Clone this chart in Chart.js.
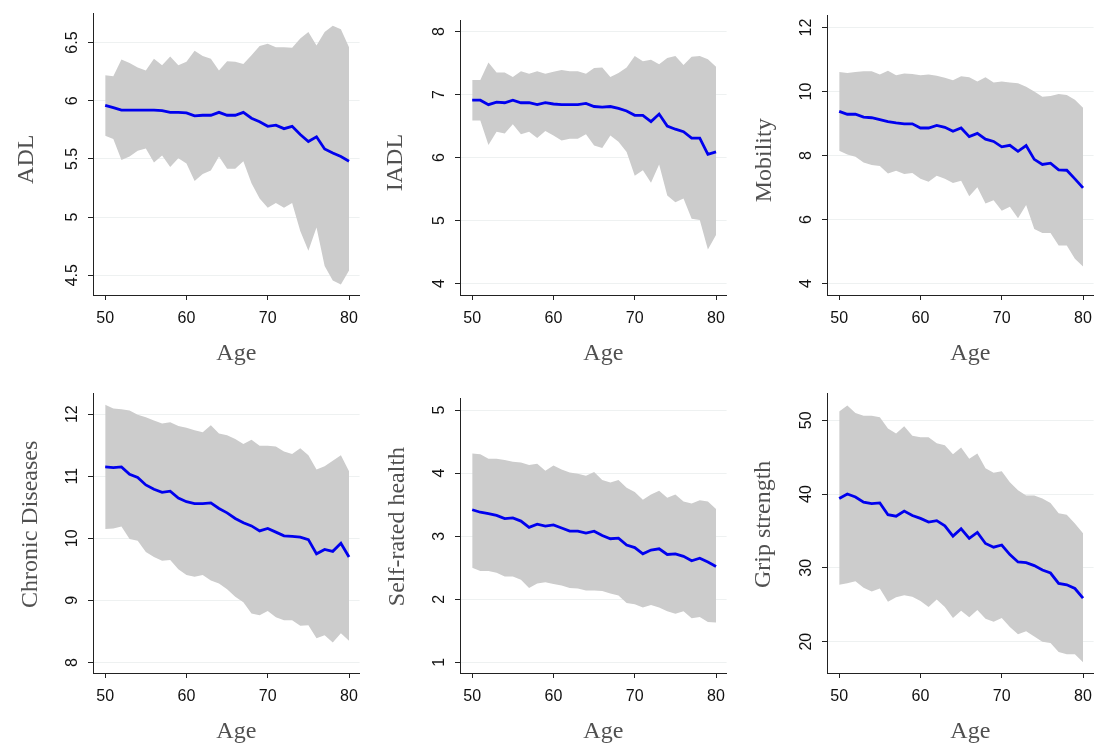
<!DOCTYPE html>
<html>
<head>
<meta charset="utf-8">
<script src="https://cdn.jsdelivr.net/npm/chart.js@4.4.1/dist/chart.umd.min.js"></script>
<style>
  body { margin: 0; background: #fff; width: 1103px; height: 749px; overflow: hidden; position: relative; }
  canvas { position: absolute; }
</style>
</head>
<body>
<canvas id="c1" width="367" height="371" style="left:0;top:0"></canvas>
<canvas id="c2" width="367" height="371" style="left:367px;top:0"></canvas>
<canvas id="c3" width="367" height="371" style="left:734px;top:0"></canvas>
<canvas id="c4" width="367" height="371" style="left:0;top:378px"></canvas>
<canvas id="c5" width="367" height="371" style="left:367px;top:378px"></canvas>
<canvas id="c6" width="367" height="371" style="left:734px;top:378px"></canvas>
<script>
// ── data (ages 50..80) ──
const ages = [50,51,52,53,54,55,56,57,58,59,60,61,62,63,64,65,66,67,68,69,70,71,72,73,74,75,76,77,78,79,80];
const ageTicks = [50, 60, 70, 80];

const adlMean  = [5.96,5.94,5.92,5.92,5.92,5.92,5.92,5.915,5.90,5.90,5.895,5.87,5.875,5.875,5.90,5.875,5.875,5.90,5.85,5.82,5.78,5.79,5.76,5.78,5.71,5.65,5.69,5.585,5.55,5.52,5.48];
const adlUpper = [6.22,6.21,6.355,6.325,6.285,6.26,6.36,6.305,6.38,6.305,6.335,6.43,6.385,6.36,6.26,6.34,6.335,6.315,6.39,6.47,6.49,6.46,6.46,6.455,6.535,6.59,6.475,6.59,6.645,6.615,6.46];
const adlLower = [5.70,5.67,5.49,5.52,5.57,5.59,5.47,5.53,5.43,5.505,5.46,5.31,5.37,5.40,5.52,5.415,5.415,5.48,5.29,5.16,5.08,5.12,5.08,5.12,4.88,4.71,4.91,4.58,4.455,4.42,4.54];
const adlTicks = [4.5, 5, 5.5, 6, 6.5];

const iadlMean  = [6.91,6.91,6.84,6.88,6.87,6.91,6.87,6.87,6.84,6.87,6.85,6.84,6.84,6.84,6.86,6.81,6.80,6.81,6.78,6.74,6.67,6.67,6.57,6.69,6.50,6.45,6.41,6.31,6.31,6.05,6.09];
const iadlUpper = [7.23,7.23,7.51,7.35,7.35,7.28,7.37,7.33,7.37,7.33,7.36,7.39,7.37,7.37,7.33,7.42,7.43,7.28,7.34,7.43,7.61,7.53,7.55,7.48,7.58,7.61,7.47,7.60,7.61,7.56,7.44];
const iadlLower = [6.59,6.59,6.20,6.41,6.38,6.53,6.37,6.41,6.31,6.42,6.35,6.27,6.30,6.30,6.37,6.19,6.15,6.35,6.25,6.09,5.71,5.80,5.60,5.89,5.40,5.29,5.35,5.03,5.01,4.54,4.77];
const iadlTicks = [4, 5, 6, 7, 8];

const mobMean  = [9.38,9.29,9.29,9.20,9.18,9.12,9.06,9.02,8.99,8.99,8.86,8.86,8.94,8.88,8.76,8.86,8.59,8.69,8.51,8.44,8.27,8.32,8.13,8.31,7.88,7.72,7.76,7.55,7.54,7.27,6.99];
const mobUpper = [10.61,10.58,10.61,10.63,10.63,10.53,10.65,10.51,10.56,10.55,10.51,10.53,10.49,10.43,10.35,10.48,10.45,10.31,10.45,10.28,10.31,10.28,10.26,10.15,10.0,9.84,9.86,9.92,9.89,9.74,9.49];
const mobLower = [8.15,8.03,7.96,7.78,7.70,7.67,7.44,7.52,7.42,7.45,7.27,7.18,7.37,7.27,7.14,7.21,6.73,7.01,6.50,6.60,6.27,6.40,6.04,6.45,5.70,5.58,5.58,5.19,5.19,4.77,4.53];
const mobTicks = [4, 6, 8, 10, 12];

const chrMean  = [11.15,11.14,11.15,11.03,10.98,10.86,10.79,10.74,10.76,10.65,10.59,10.56,10.56,10.57,10.48,10.41,10.32,10.25,10.20,10.12,10.16,10.10,10.04,10.03,10.02,9.98,9.75,9.82,9.79,9.92,9.70];
const chrUpper = [12.15,12.09,12.08,12.06,11.99,11.95,11.90,11.85,11.87,11.81,11.78,11.74,11.71,11.82,11.69,11.66,11.60,11.52,11.59,11.49,11.49,11.48,11.40,11.36,11.45,11.34,11.11,11.16,11.25,11.34,11.08];
const chrLower = [10.15,10.16,10.19,9.99,9.96,9.78,9.70,9.64,9.65,9.50,9.41,9.38,9.41,9.32,9.27,9.18,9.06,8.97,8.79,8.76,8.83,8.73,8.68,8.68,8.59,8.60,8.39,8.44,8.32,8.47,8.35];
const chrTicks = [8, 9, 10, 11, 12];

const srhMean  = [3.42,3.38,3.36,3.33,3.28,3.29,3.24,3.14,3.19,3.16,3.18,3.13,3.08,3.08,3.05,3.08,3.01,2.96,2.97,2.86,2.82,2.72,2.78,2.80,2.71,2.72,2.68,2.61,2.65,2.59,2.52];
const srhUpper = [4.31,4.30,4.23,4.23,4.21,4.18,4.17,4.13,4.15,4.04,4.12,4.06,4.01,3.99,3.96,4.02,3.89,3.85,3.89,3.77,3.70,3.58,3.66,3.72,3.61,3.66,3.55,3.52,3.57,3.55,3.43];
const srhLower = [2.50,2.45,2.45,2.42,2.36,2.36,2.31,2.18,2.25,2.27,2.24,2.22,2.18,2.17,2.14,2.14,2.13,2.09,2.06,1.94,1.92,1.87,1.91,1.87,1.81,1.77,1.81,1.70,1.72,1.64,1.63];
const srhTicks = [1, 2, 3, 4, 5];

const gripMean  = [39.4,40.0,39.6,38.9,38.7,38.8,37.2,37.0,37.7,37.1,36.7,36.2,36.4,35.7,34.3,35.3,34.0,34.8,33.3,32.8,33.1,31.8,30.8,30.7,30.3,29.7,29.3,27.9,27.7,27.2,25.9];
const gripUpper = [51.2,52.0,51.0,50.6,50.6,50.4,48.9,48.2,49.2,47.9,47.7,47.7,46.9,46.6,45.4,46.3,44.8,45.5,43.5,42.9,43.1,41.6,40.5,39.8,39.8,39.4,38.8,37.4,37.2,36.0,34.7];
const gripLower = [27.7,27.9,28.2,27.3,26.8,27.2,25.4,26.0,26.3,26.1,25.5,24.7,25.7,24.7,23.2,24.2,23.3,24.3,23.1,22.7,23.2,22.0,21.0,21.4,20.7,20.0,19.8,18.6,18.3,18.3,17.2];
const gripTicks = [20, 30, 40, 50];

// ── styling ──
const TICK_FONT = { family: "'Liberation Sans', Arial, sans-serif", size: 16 };
const TITLE_FAMILY = "'Liberation Serif', 'Times New Roman', serif";
const BAND = '#cccccc';
const LINE = '#0000ee';
const AXIS = '#222222';
const GRID = '#eef1f1';

// yGap: distance from plot's left edge to the title baseline; yShift: vertical nudge of title centre
const panels = [
    { id: 'c1', title: 'ADL', mean: adlMean, upper: adlUpper, lower: adlLower, ticks: adlTicks, min: 4.33, max: 6.75, yGap: 60, yShift: 5 },
    { id: 'c2', title: 'IADL', mean: iadlMean, upper: iadlUpper, lower: iadlLower, ticks: iadlTicks, min: 3.82, max: 8.18, yGap: 58, yShift: 5 },
    { id: 'c3', title: 'Mobility', mean: mobMean, upper: mobUpper, lower: mobLower, ticks: mobTicks, min: 3.64, max: 12.37, yGap: 56, yShift: 5 },
    { id: 'c4', title: 'Chronic Diseases', mean: chrMean, upper: chrUpper, lower: chrLower, ticks: chrTicks, min: 7.83, max: 12.33, yGap: 56, yShift: -9 },
    { id: 'c5', title: 'Self-rated health', mean: srhMean, upper: srhUpper, lower: srhLower, ticks: srhTicks, min: 0.83, max: 5.19, yGap: 56, yShift: -9 },
    { id: 'c6', title: 'Grip strength', mean: gripMean, upper: gripUpper, lower: gripLower, ticks: gripTicks, min: 15.75, max: 53.6, yGap: 57, yShift: -9 },
];

// axis titles placed like Stata does (slightly off the plot centre)
const axisTitles = {
    id: 'axisTitles',
    afterDraw(chart, args, o) {
        const { ctx, chartArea: a } = chart;
        ctx.save();
        ctx.fillStyle = '#505050';
        ctx.font = '24px ' + TITLE_FAMILY;
        ctx.textAlign = 'center';
        ctx.textBaseline = 'alphabetic';
        ctx.fillText(o.xText, (a.left + a.right) / 2 + 10, a.bottom + 65);
        ctx.translate(a.left - o.yGap, (a.top + a.bottom) / 2 + o.yShift);
        ctx.rotate(-Math.PI / 2);
        ctx.fillText(o.yText, 0, 0);
        ctx.restore();
    }
};

// widest tick label, so rotated labels sit at the same distance from the axis
function widestLabel(labels) {
    const c = document.createElement('canvas').getContext('2d');
    c.font = TICK_FONT.size + 'px ' + TICK_FONT.family;
    return Math.max(...labels.map(l => c.measureText(String(l)).width));
}

function makePanel(p) {
    const pts = arr => ages.map((a, i) => ({ x: a, y: arr[i] }));
    const w = widestLabel(p.ticks);

    new Chart(document.getElementById(p.id), {
        type: 'line',
        data: {
            datasets: [
                { data: pts(p.upper), fill: '+1', backgroundColor: BAND, borderWidth: 0, pointRadius: 0, order: 2 },
                { data: pts(p.lower), fill: false, borderWidth: 0, pointRadius: 0, order: 2 },
                { data: pts(p.mean), fill: false, borderColor: LINE, borderWidth: 2.8, pointRadius: 0, tension: 0, order: 1 },
            ]
        },
        plugins: [axisTitles],
        options: {
            responsive: false, animation: false,
            layout: { padding: { top: 10, right: 2, left: 0, bottom: 0 } },
            plugins: {
                legend: { display: false }, tooltip: { enabled: false },
                axisTitles: { xText: 'Age', yText: p.title, yGap: p.yGap, yShift: p.yShift }
            },
            scales: {
                x: {
                    type: 'linear', min: 48.5, max: 81.3,
                    afterBuildTicks: s => { s.ticks = ageTicks.map(v => ({ value: v })); },
                    afterFit: s => { s.height = 76; },
                    grid: { drawOnChartArea: false, tickLength: 5, tickColor: AXIS },
                    border: { color: AXIS, width: 1 },
                    ticks: { font: TICK_FONT, color: '#111', padding: 9, maxRotation: 0, callback: v => String(v) }
                },
                y: {
                    min: p.min, max: p.max,
                    afterBuildTicks: s => { s.ticks = p.ticks.map(v => ({ value: v })); },
                    afterFit: s => { s.width = 93; },
                    grid: { color: GRID, tickLength: 5, tickColor: AXIS },
                    border: { color: AXIS, width: 1 },
                    ticks: { font: TICK_FONT, color: '#111', minRotation: 90, maxRotation: 90, crossAlign: 'center',
                        padding: 15 - w / 2, callback: v => String(v) }
                }
            }
        }
    });
}

panels.forEach(makePanel);
</script>
</body>
</html>
